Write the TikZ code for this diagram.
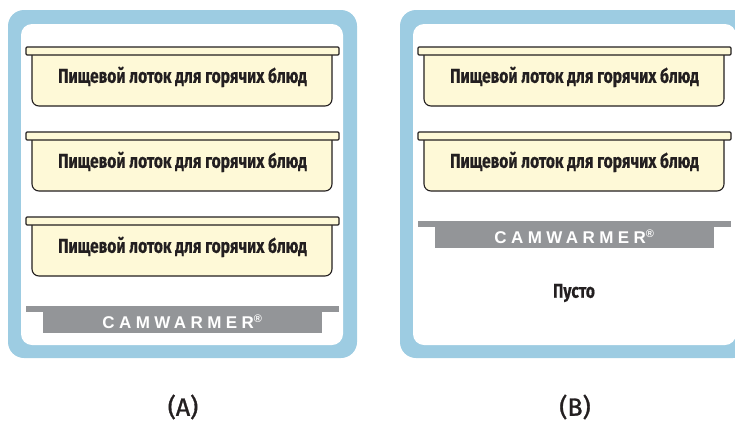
\documentclass[tikz,border=0pt]{standalone}
\usepackage{fontspec}
\setmainfont{Fira Sans}
\newfontfamily\trayfont[FakeStretch=0.78,FakeBold=0.6]{Fira Sans}
\newfontfamily\logofont[LetterSpace=26]{Liberation Sans}
\newfontfamily\labelfont[FakeStretch=1.0,FakeBold=1.2]{Fira Sans}
\definecolor{panelblue}{HTML}{9DCCE2}
\definecolor{trayfill}{HTML}{FEF9D7}
\definecolor{trayline}{HTML}{231F20}
\definecolor{logogray}{HTML}{939598}
\tikzset{
  trayshape/.style={fill=trayfill, draw=trayline, line width=1.1pt, line join=round},
  traytext/.style={font=\trayfont\bfseries\fontsize{20}{22}\selectfont, text=trayline, inner sep=0pt},
  logotext/.style={font=\logofont\bfseries\fontsize{17}{18}\selectfont, text=white, inner sep=0pt},
  paneltitle/.style={font=\labelfont\fontsize{25}{27}\selectfont, text=trayline, inner sep=0pt},
  tray/.pic={
    \path[trayshape, rounded corners=7pt] (6,8) -- (6,59) -- (306,59) -- (306,8);
    \path[trayshape, rounded corners=1pt] (0,0) rectangle (313,8);
    \node[traytext] (-text) at (156.5,30) {Пищевой лоток для горячих блюд};
  },
  logobar/.pic={
    \fill[logogray] (0,0) rectangle (313,6);
    \fill[logogray] (17,6) rectangle (296,27);
    \node[logotext] (-text) at (156.5,15.5) {CAMWARMER\textsuperscript{\fontsize{11}{11}\selectfont ®}};
  }
}
\begin{document}
\begin{tikzpicture}[x=1pt,y=-1pt]
\useasboundingbox (0,0) rectangle (735,423);
\begin{scope}
\clip (0,0) rectangle (735,423);
% panel A
\fill[panelblue, rounded corners=16pt] (8,10) rectangle (357,358);
\fill[white, rounded corners=11pt] (21,24) rectangle (343,345);
% panel B
\fill[panelblue, rounded corners=16pt] (400,10) rectangle (749,358);
\fill[white, rounded corners=11pt] (413,24) rectangle (736,345);
\end{scope}
\pic (a1) at (26,47) {tray};
\pic (a2) at (26,132) {tray};
\pic (a3) at (26,217) {tray};
\pic (alogo) at (26,306) {logobar};
\pic (b1) at (418,47) {tray};
\pic (b2) at (418,132) {tray};
\pic (blogo) at (418,221) {logobar};
\node[traytext] (empty) at (574,293) {Пусто};
\node[paneltitle] (labA) at (183,407) {(A)};
\node[paneltitle] (labB) at (575,407) {(B)};
\end{tikzpicture}
\end{document}
